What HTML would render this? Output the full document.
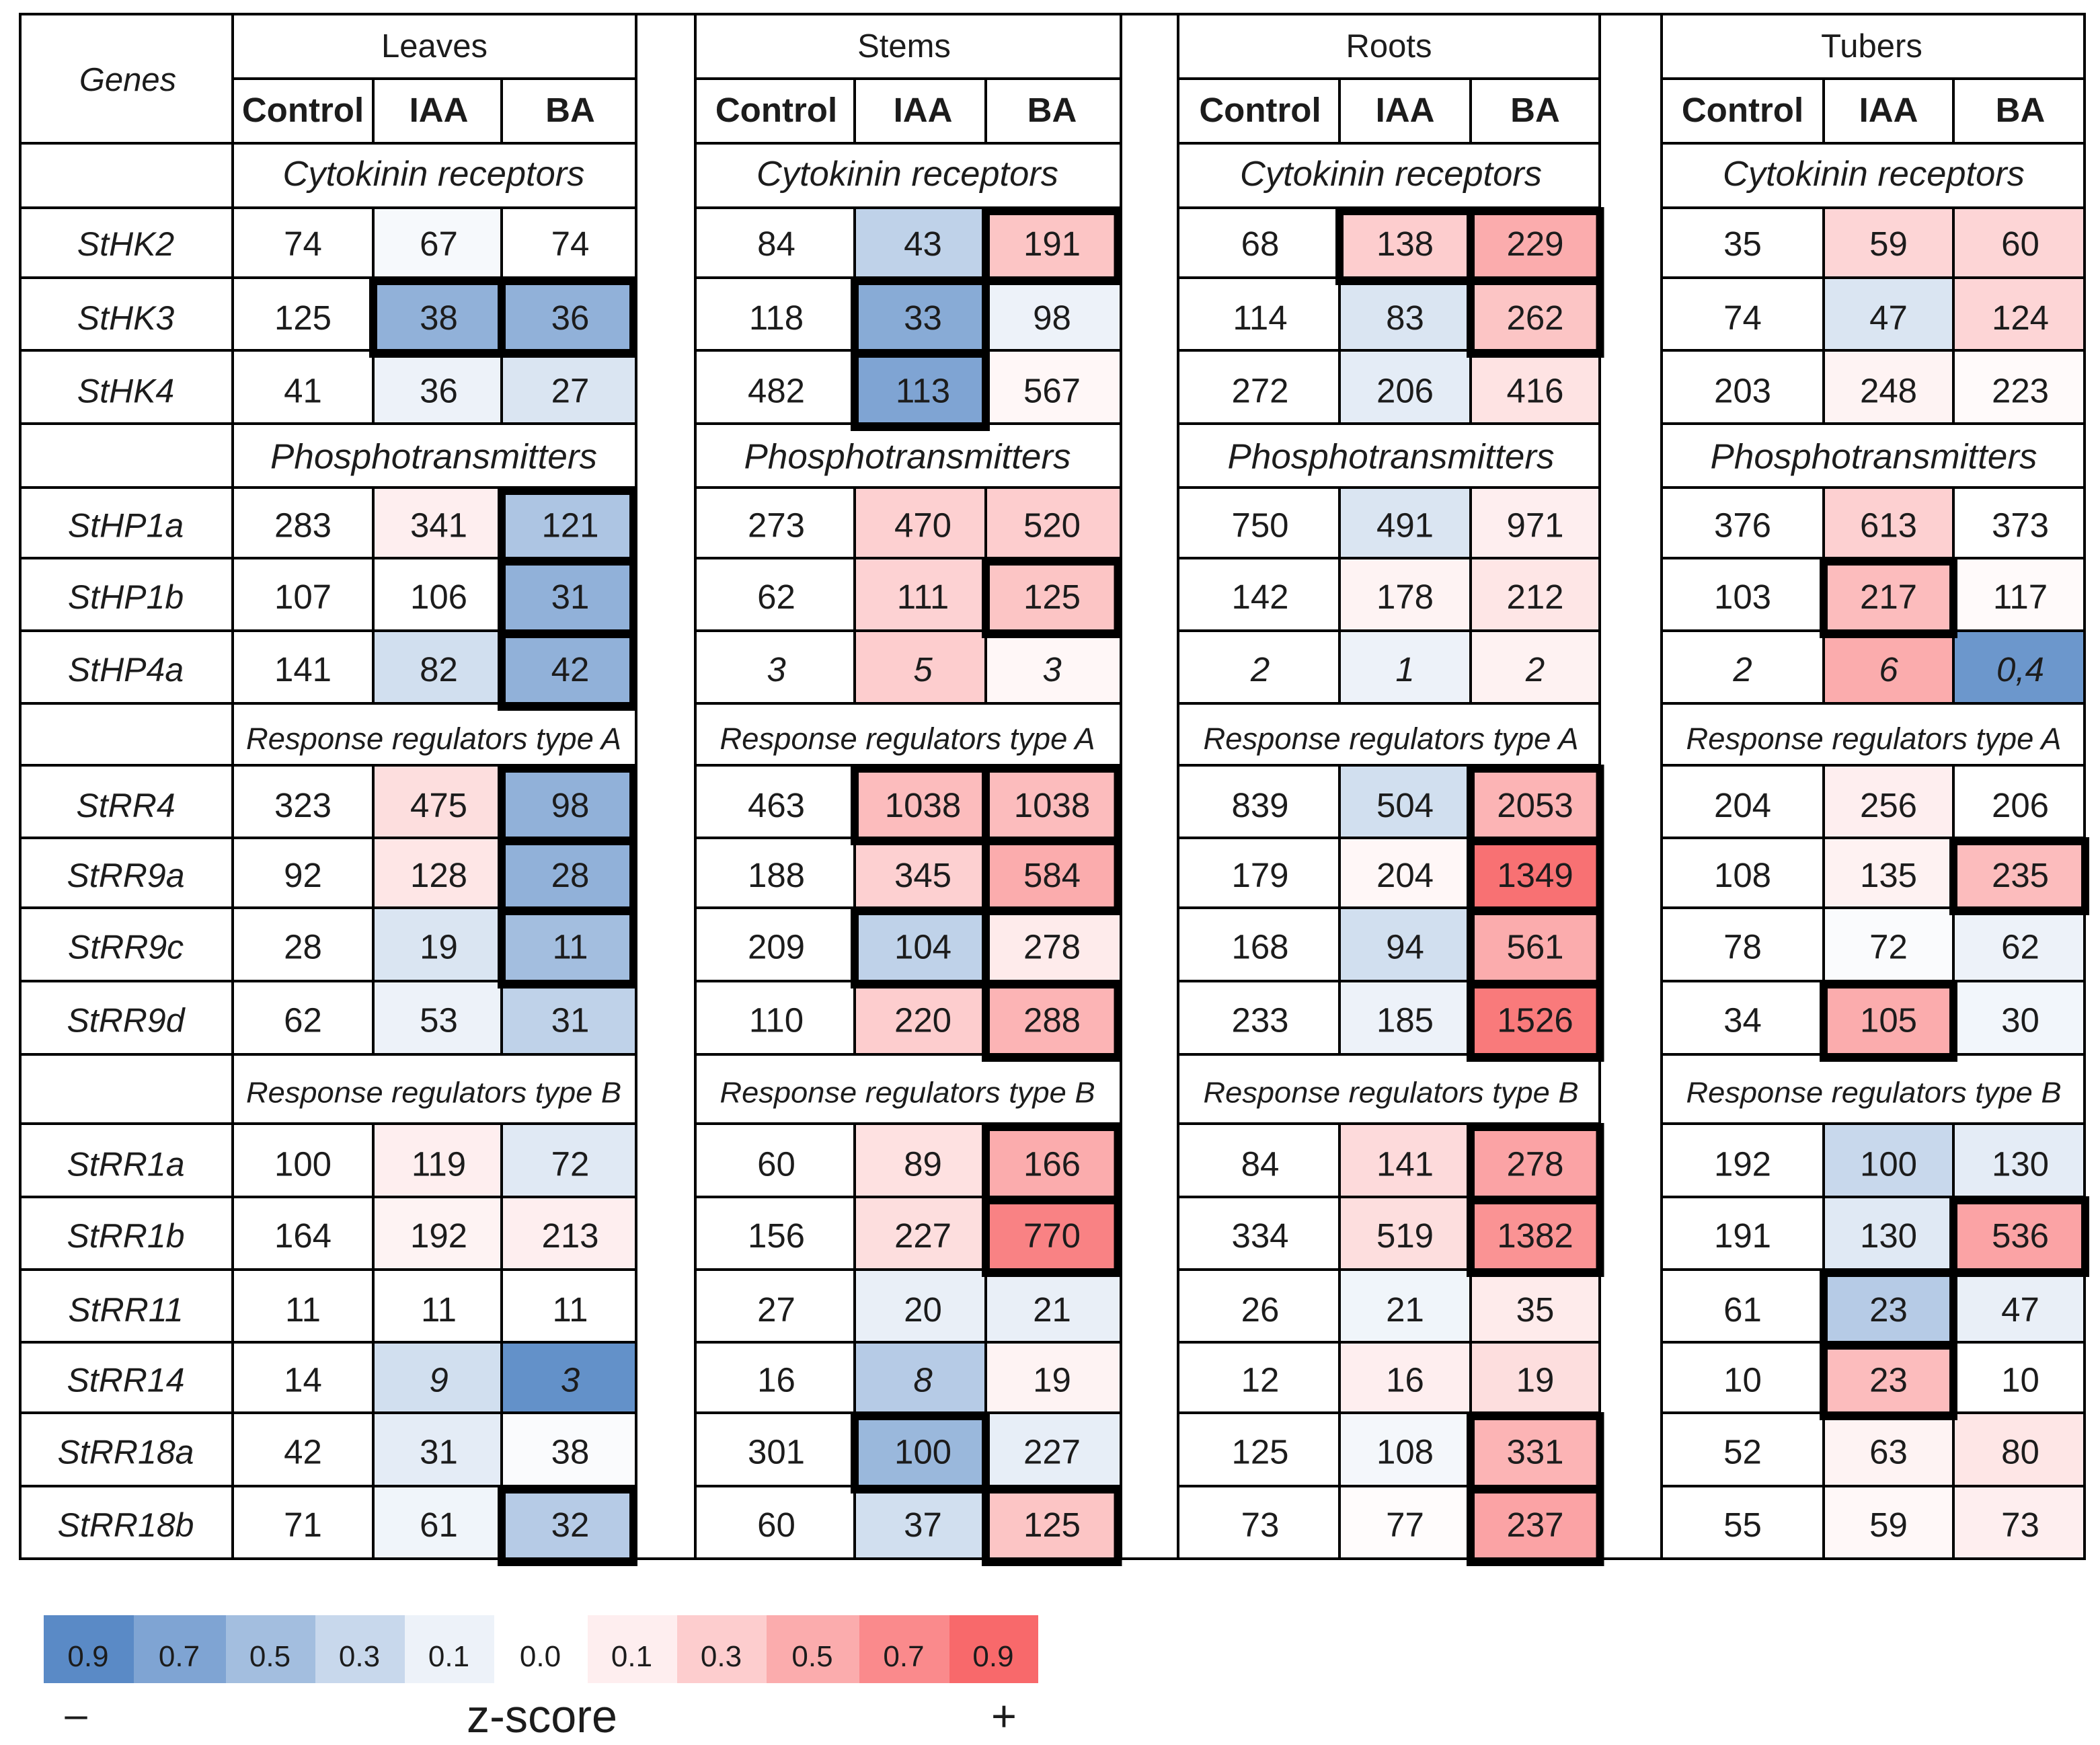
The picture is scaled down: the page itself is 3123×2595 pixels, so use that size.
<!DOCTYPE html>
<html lang="en">
<head>
<meta charset="utf-8">
<title>Cytokinin signalling genes z-score heatmap table</title>
<style>
html,body{margin:0;padding:0;background:#fff;}
svg{display:block;}
text{font-family:"Liberation Sans",sans-serif;fill:#1c1c1c;text-anchor:middle;}
</style>
</head>
<body>
<svg id="chart" xmlns="http://www.w3.org/2000/svg" width="3123" height="2595" viewBox="0 0 3123 2595">
  <rect x="0" y="0" width="3123" height="2595" fill="#ffffff"></rect>
  <g id="fills"></g>
  <g id="lines"></g>
  <g id="boxes"></g>
  <g id="labels"></g>
  <g id="legend"></g>
</svg>
<script>
// ---------- data ----------
const treatments = ['Control', 'IAA', 'BA'];
const sectionNames = ['Cytokinin receptors', 'Phosphotransmitters', 'Response regulators type A', 'Response regulators type B'];
const genes = [
  ['StHK2', 'StHK3', 'StHK4'],
  ['StHP1a', 'StHP1b', 'StHP4a'],
  ['StRR4', 'StRR9a', 'StRR9c', 'StRR9d'],
  ['StRR1a', 'StRR1b', 'StRR11', 'StRR14', 'StRR18a', 'StRR18b']
];
const tissues = ['Leaves', 'Stems', 'Roots', 'Tubers'];

const leavesValues = [[74,67,74],[125,38,36],[41,36,27],[283,341,121],[107,106,31],[141,82,42],[323,475,98],[92,128,28],[28,19,11],[62,53,31],[100,119,72],[164,192,213],[11,11,11],[14,9,3],[42,31,38],[71,61,32]];
const stemsValues = [[84,43,191],[118,33,98],[482,113,567],[273,470,520],[62,111,125],[3,5,3],[463,1038,1038],[188,345,584],[209,104,278],[110,220,288],[60,89,166],[156,227,770],[27,20,21],[16,8,19],[301,100,227],[60,37,125]];
const rootsValues = [[68,138,229],[114,83,262],[272,206,416],[750,491,971],[142,178,212],[2,1,2],[839,504,2053],[179,204,1349],[168,94,561],[233,185,1526],[84,141,278],[334,519,1382],[26,21,35],[12,16,19],[125,108,331],[73,77,237]];
const tubersValues = [[35,59,60],[74,47,124],[203,248,223],[376,613,373],[103,217,117],[2,6,0.4],[204,256,206],[108,135,235],[78,72,62],[34,105,30],[192,100,130],[191,130,536],[61,23,47],[10,23,10],[52,63,80],[55,59,73]];

const leavesZ = [[0,-0.05,0],[0,-0.6,-0.6],[0,-0.1,-0.2],[0,0.1,-0.45],[0,0,-0.6],[0,-0.25,-0.6],[0,0.2,-0.6],[0,0.15,-0.6],[0,-0.2,-0.5],[0,-0.1,-0.35],[0,0.1,-0.17],[0,0.07,0.1],[0,0,0],[0,-0.25,-0.85],[0,-0.15,-0.03],[0,-0.08,-0.4]];
const stemsZ = [[0,-0.35,0.35],[0,-0.65,-0.1],[0,-0.7,0.05],[0,0.28,0.3],[0,0.27,0.35],[0,0.3,0.05],[0,0.4,0.4],[0,0.28,0.5],[0,-0.35,0.12],[0,0.3,0.45],[0,0.18,0.5],[0,0.2,0.75],[0,-0.12,-0.12],[0,-0.4,0.07],[0,-0.55,-0.13],[0,-0.25,0.35]];
const rootsZ = [[0,0.3,0.5],[0,-0.2,0.35],[0,-0.15,0.17],[0,-0.2,0.1],[0,0.07,0.15],[0,-0.1,0.08],[0,-0.25,0.45],[0,0.05,0.85],[0,-0.25,0.5],[0,-0.1,0.8],[0,0.22,0.55],[0,0.2,0.65],[0,-0.08,0.12],[0,0.1,0.2],[0,-0.06,0.45],[0,0.02,0.55]];
const tubersZ = [[0,0.25,0.25],[0,-0.2,0.25],[0,0.07,0.03],[0,0.28,0],[0,0.4,0.03],[0,0.5,-0.8],[0,0.1,0],[0,0.08,0.4],[0,-0.03,-0.1],[0,0.5,-0.07],[0,-0.3,-0.15],[0,-0.17,0.55],[0,-0.4,-0.12],[0,0.4,0],[0,0.07,0.15],[0,0.04,0.1]];

// significant cells flagged with a heavy outline: 1 = outlined
const leavesSig = [[0,0,0],[0,1,1],[0,0,0],[0,0,1],[0,0,1],[0,0,1],[0,0,1],[0,0,1],[0,0,1],[0,0,0],[0,0,0],[0,0,0],[0,0,0],[0,0,0],[0,0,0],[0,0,1]];
const stemsSig = [[0,0,1],[0,1,0],[0,1,0],[0,0,0],[0,0,1],[0,0,0],[0,1,1],[0,0,1],[0,1,0],[0,0,1],[0,0,1],[0,0,1],[0,0,0],[0,0,0],[0,1,0],[0,0,1]];
const rootsSig = [[0,1,1],[0,0,1],[0,0,0],[0,0,0],[0,0,0],[0,0,0],[0,0,1],[0,0,1],[0,0,1],[0,0,1],[0,0,1],[0,0,1],[0,0,0],[0,0,0],[0,0,1],[0,0,1]];
const tubersSig = [[0,0,0],[0,0,0],[0,0,0],[0,0,0],[0,1,0],[0,0,0],[0,0,0],[0,0,1],[0,0,0],[0,1,0],[0,0,0],[0,0,1],[0,1,0],[0,1,0],[0,0,0],[0,0,0]];

const legendLevels = [-0.9,-0.7,-0.5,-0.3,-0.1,0,0.1,0.3,0.5,0.7,0.9];

// ---------- layout ----------
const NS = 'http://www.w3.org/2000/svg';
const gridY = [21,117,213,309,413,521,630,725,830,938,1046,1138,1246,1350,1459,1568,1671,1780,1888,1996,2101,2210,2318];
const sectionLineIndex = [2,6,10,15];
const sectionBaseline = [15,19,22,20];
const sectionFont = [52,52,45,44];
const sectionWidth = [449,486,558,558];
const panelX = [
  [346,555,746,946],
  [1034,1271,1466,1667],
  [1752,1992,2187,2379],
  [2471,2712,2905,3100]
];
const boxRightX = [942,1662.5,2379.5,3101];
const legendEdges = [65,199,336,469,602,735,874,1007,1140,1278,1412,1544];
const columnNudge = [[-2,0,0],[0,2,-4],[0,-2,-2],[-2,-2,0]];
const tissueNudge = [0,-6,0,-2];
const sectionNudge = [-2,-2,2,0];
const rowNudge = [-4,0,0,-2,-2,-2,0,-2,-2,-2,0,-2,0,-2,-2,-2];

const panelValues = [leavesValues, stemsValues, rootsValues, tubersValues];
const panelZ = [leavesZ, stemsZ, rootsZ, tubersZ];
const panelSig = [leavesSig, stemsSig, rootsSig, tubersSig];

const fillsG = document.getElementById('fills');
const linesG = document.getElementById('lines');
const boxesG = document.getElementById('boxes');
const labelsG = document.getElementById('labels');
const legendG = document.getElementById('legend');

function shape(parent, tag, attrs, content) {
  const el = document.createElementNS(NS, tag);
  for (const k in attrs) el.setAttribute(k, attrs[k]);
  if (content !== undefined) el.textContent = content;
  parent.appendChild(el);
  return el;
}
function zColor(z) {
  const t = Math.min(1, Math.abs(z) / 0.9);
  const end = z < 0 ? [90,138,198] : [248,105,107];
  const c = end.map(function (e) { return Math.round(255 + (e - 255) * t); });
  return 'rgb(' + c.join(',') + ')';
}
function formatValue(v) {
  return String(v).replace('.', ',');
}
function hLine(x1, x2, y) {
  const el = shape(linesG, 'line', {x1: x1, x2: x2, y1: y, y2: y, stroke: '#000', 'stroke-width': 4});
  
  
}
function vLine(x, y1, y2) {
  const el = shape(linesG, 'line', {x1: x, x2: x, y1: y1, y2: y2, stroke: '#000', 'stroke-width': 4});
  
  
}

// gene rows: each row's grid-line index, skipping section rows
const geneRowLines = [];
genes.forEach(function (group, s) {
  group.forEach(function (g, i) {
    geneRowLines.push(sectionLineIndex[s] + 1 + i);
  });
});

// heat cells
panelX.forEach(function (xs, p) {
  geneRowLines.forEach(function (li, r) {
    treatments.forEach(function (t, c) {
      const cell = shape(fillsG, 'rect', {
        x: xs[c], y: gridY[li], width: xs[c + 1] - xs[c], height: gridY[li + 1] - gridY[li],
        fill: zColor(panelZ[p][r][c])
      });
      
      
    });
  });
});

// grid lines
hLine(28, 3102, gridY[0]);
hLine(28, 3102, gridY[22]);
hLine(30, 346, gridY[2]);
vLine(30, gridY[0], gridY[22]);
gridY.forEach(function (y, i) {
  if (i >= 2 && i < 22) hLine(30, 346, y);
});
panelX.forEach(function (xs) {
  const left = xs[0];
  const right = xs[3];
  vLine(left, gridY[0], gridY[22]);
  vLine(right, gridY[0], gridY[22]);
  for (let i = 1; i < 22; i++) hLine(left, right, gridY[i]);
  [1, 2].forEach(function (c) {
    vLine(xs[c], gridY[1], gridY[2]);
    geneRowLines.forEach(function (li) {
      vLine(xs[c], gridY[li], gridY[li + 1]);
    });
  });
});

// significance boxes
panelX.forEach(function (xs, p) {
  geneRowLines.forEach(function (li, r) {
    treatments.forEach(function (t, c) {
      if (!panelSig[p][r][c]) return;
      const x1 = xs[c];
      const x2 = c === 2 ? boxRightX[p] : xs[c + 1];
      const box = shape(boxesG, 'rect', {
        x: x1, y: gridY[li] + 5, width: x2 - x1, height: gridY[li + 1] - gridY[li],
        fill: 'none', stroke: '#000', 'stroke-width': 12
      });
      
      
    });
  });
});

// header text
const genesTitle = shape(labelsG, 'text', {x: 190, y: 135, 'font-size': 49, 'font-style': 'italic'}, 'Genes');



panelX.forEach(function (xs, p) {
  const cx = (xs[0] + xs[3]) / 2;
  const tissue = shape(labelsG, 'text', {x: cx + tissueNudge[p], y: 85, 'font-size': 49}, tissues[p]);
  
  
  treatments.forEach(function (t, c) {
    const head = shape(labelsG, 'text', {x: (xs[c] + xs[c + 1]) / 2 + 2 + columnNudge[p][c], y: 181, 'font-size': 51, 'font-weight': 'bold'}, t);
    
    
  });
  sectionNames.forEach(function (name, s) {
    const li = sectionLineIndex[s];
    const y = (gridY[li] + gridY[li + 1]) / 2 + sectionBaseline[s];
    const sec = shape(labelsG, 'text', {
      x: cx + 1 + sectionNudge[p], y: y, 'font-size': sectionFont[s], 'font-style': 'italic',
      textLength: sectionWidth[s], lengthAdjust: 'spacingAndGlyphs'
    }, name);
    
    
  });
});

// gene names and cell values
let rowIndex = 0;
genes.forEach(function (group) {
  group.forEach(function (gene) {
    const li = geneRowLines[rowIndex];
    const y = (gridY[li] + gridY[li + 1]) / 2 + 23 + rowNudge[rowIndex];
    const label = shape(labelsG, 'text', {x: 187, y: y, 'font-size': 50, 'font-style': 'italic'}, gene);
    
    
    panelX.forEach(function (xs, p) {
      treatments.forEach(function (t, c) {
        const v = panelValues[p][rowIndex][c];
        const attrs = {x: (xs[c] + xs[c + 1]) / 2 + 2 + columnNudge[p][c], y: y, 'font-size': 51};
        if (v < 10) attrs['font-style'] = 'italic';
        const val = shape(labelsG, 'text', attrs, formatValue(v));
        
        
      });
    });
    rowIndex++;
  });
});

// legend
legendLevels.forEach(function (z, i) {
  const swatch = shape(legendG, 'rect', {
    x: legendEdges[i], y: 2402, width: legendEdges[i + 1] - legendEdges[i], height: 101, fill: zColor(z)
  });
  
  
  const tick = shape(legendG, 'text', {
    x: (legendEdges[i] + legendEdges[i + 1]) / 2 - 1, y: 2478, 'font-size': 44
  }, Math.abs(z).toFixed(1));
  
  
});
const legendTitle = shape(legendG, 'text', {x: 806, y: 2576, 'font-size': 70, textLength: 224, lengthAdjust: 'spacingAndGlyphs'}, 'z-score');


const minusSign = shape(legendG, 'text', {x: 113, y: 2570, 'font-size': 60}, '\u2013');


const plusSign = shape(legendG, 'text', {x: 1493, y: 2574, 'font-size': 65}, '+');


</script>
</body>
</html>
